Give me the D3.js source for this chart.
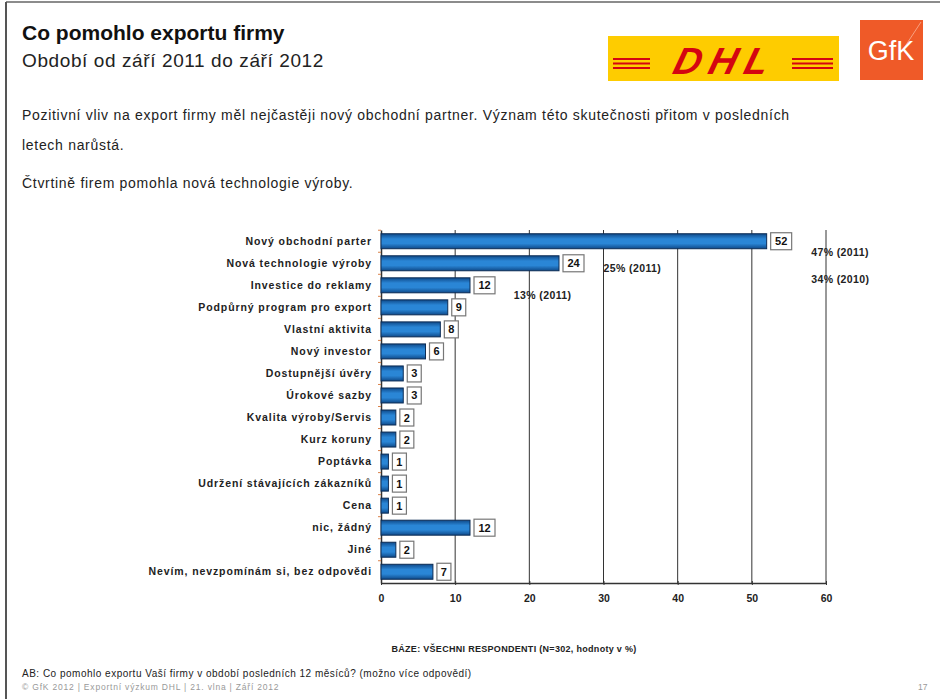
<!DOCTYPE html>
<html>
<head>
<meta charset="utf-8">
<script src="https://cdn.jsdelivr.net/npm/d3@7"></script>
<style>
  body { margin: 0; background: #fff; }
  svg text { font-family: "Liberation Sans", Arial, sans-serif; }
</style>
</head>
<body>
<svg id="chart" width="940" height="699"></svg>
<script>
// answers, top to bottom
const categories = [
    "Nový obchodní parter",
    "Nová technologie výroby",
    "Investice do reklamy",
    "Podpůrný program pro export",
    "Vlastní aktivita",
    "Nový investor",
    "Dostupnější úvěry",
    "Úrokové sazby",
    "Kvalita výroby/Servis",
    "Kurz koruny",
    "Poptávka",
    "Udržení stávajících zákazníků",
    "Cena",
    "nic, žádný",
    "Jiné",
    "Nevím, nevzpomínám si, bez odpovědi"
];
const values = [52, 24, 12, 9, 8, 6, 3, 3, 2, 2, 1, 1, 1, 12, 2, 7];
const xTicks = [0, 10, 20, 30, 40, 50, 60];

// earlier-year notes written next to the top bars
const notes = [
    {text: "47% (2011)", value: 58.0, row: 0, dy: 16},
    {text: "34% (2010)", value: 58.0, row: 0, dy: 43},
    {text: "25% (2011)", value: 30.0, row: 1, dy: 10},
    {text: "13% (2011)", value: 17.9, row: 2, dy: 15}
];

const svg = d3.select("#chart");
const margin = {top: 230, left: 381, right: 114, bottom: 116};
const width = 940, height = 699;

// slide frame
svg.append("line").attr("x1", 6).attr("y1", 2).attr("x2", 940).attr("y2", 2)
    .attr("stroke", "#666").attr("stroke-width", 1.5);
svg.append("line").attr("x1", 6).attr("y1", 2).attr("x2", 6).attr("y2", 699)
    .attr("stroke", "#555").attr("stroke-width", 2);

// header
svg.append("text").attr("x", 22).attr("y", 40).text("Co pomohlo exportu firmy")
    .attr("font-size", "21px").attr("font-weight", "bold").attr("fill", "#111");
svg.append("text").attr("x", 22).attr("y", 67).text("Období od září 2011 do září 2012")
    .attr("font-size", "19px").attr("fill", "#222").style("letter-spacing", "0.6px");

// logos
svg.append("rect").attr("x", 608).attr("y", 36).attr("width", 231).attr("height", 45).attr("fill", "#fecc00");
[59, 63.5, 68].forEach(y => {
    svg.append("line").attr("x1", 613).attr("x2", 833).attr("y1", y).attr("y2", y)
        .attr("stroke", "#d40511").attr("stroke-width", 1.8);
});
svg.append("rect").attr("x", 650).attr("y", 46).attr("width", 142).attr("height", 28).attr("fill", "#fecc00");
svg.append("text").attr("x", 722).attr("y", 74).text("DHL")
    .attr("font-size", "38px").attr("font-weight", "bold").attr("font-style", "italic")
    .attr("text-anchor", "middle").attr("fill", "#d40511")
    .attr("transform", "skewX(-15) translate(20,0)")
    .style("letter-spacing", "8px");
svg.append("rect").attr("x", 860).attr("y", 20).attr("width", 63).attr("height", 60).attr("fill", "#ef5a28");
svg.append("line").attr("x1", 904).attr("y1", 48).attr("x2", 921).attr("y2", 22)
    .attr("stroke", "#f8a080").attr("stroke-width", 1);
svg.append("text").attr("x", 891).attr("y", 60).text("GfK")
    .attr("font-size", "27px").attr("text-anchor", "middle").attr("fill", "#fff");

// intro text
const intro = [
    {t: "Pozitivní vliv na export firmy měl nejčastěji nový obchodní partner. Význam této skutečnosti přitom v posledních", y: 120},
    {t: "letech narůstá.", y: 150},
    {t: "Čtvrtině firem pomohla nová technologie výroby.", y: 188}
];
intro.forEach(d => {
    svg.append("text").attr("x", 22).attr("y", d.y).text(d.t)
        .attr("font-size", "14px").attr("fill", "#222").style("letter-spacing", "0.7px");
});

// scales
const xScale = d3.scaleLinear().domain([0, 60]).range([margin.left, width - margin.right]);
const yScale = d3.scaleBand().domain(categories).range([margin.top, height - margin.bottom]).paddingInner(0.32).paddingOuter(0.17);
const plotBottom = height - margin.bottom;

// gradient for the bars
const grad = svg.append("defs").append("linearGradient").attr("id", "barGrad")
    .attr("x1", 0).attr("y1", 0).attr("x2", 0).attr("y2", 1);
grad.append("stop").attr("offset", "0%").attr("stop-color", "#0f4a8a");
grad.append("stop").attr("offset", "35%").attr("stop-color", "#2a86d6");
grad.append("stop").attr("offset", "65%").attr("stop-color", "#2a86d6");
grad.append("stop").attr("offset", "100%").attr("stop-color", "#0f4a8a");

// grid lines
svg.append("g").selectAll("line")
    .data(xTicks.slice(1))
    .enter().append("line")
    .attr("x1", d => xScale(d)).attr("x2", d => xScale(d))
    .attr("y1", margin.top).attr("y2", plotBottom)
    .attr("stroke", "#333").attr("stroke-width", 1);

// x axis
const xAxis = d3.axisBottom(xScale).tickValues(xTicks).tickSize(4).tickSizeOuter(0);
const gx = svg.append("g")
    .attr("transform", `translate(0,${plotBottom})`)
    .call(xAxis);
gx.select(".domain").attr("stroke", "#333").attr("stroke-width", 1.5);
gx.selectAll(".tick line").attr("stroke", "#333").attr("transform", "translate(0,-2)");
gx.selectAll("text")
    .attr("font-size", "10.5px").attr("font-weight", "bold").attr("fill", "#222")
    .attr("dy", "1.1em");

// y axis with small orange tick marks between rows
const gy = svg.append("g").attr("transform", `translate(${margin.left},0)`)
    .call(d3.axisLeft(yScale).tickSize(0).tickPadding(9));
gy.select(".domain").attr("stroke", "#333").attr("stroke-width", 1.5);
gy.selectAll("text")
    .attr("font-size", "10.5px").attr("font-weight", "bold").attr("fill", "#222")
    .style("letter-spacing", "0.9px");
svg.append("g").selectAll("line")
    .data(categories)
    .enter().append("line")
    .attr("x1", margin.left - 3).attr("x2", margin.left)
    .attr("y1", d => yScale(d) - yScale.step() * yScale.paddingInner() / 2)
    .attr("y2", d => yScale(d) - yScale.step() * yScale.paddingInner() / 2)
    .attr("stroke", "#d9824a").attr("stroke-width", 1);

// bars
svg.append("g").selectAll("rect")
    .data(categories)
    .enter().append("rect")
    .attr("x", xScale(0))
    .attr("y", d => yScale(d))
    .attr("width", (d, i) => xScale(values[i]) - xScale(0))
    .attr("height", yScale.bandwidth())
    .attr("fill", "url(#barGrad)")
    .attr("stroke", "#0c2c55").attr("stroke-width", 1);

// value boxes
const labels = svg.append("g").selectAll("g")
    .data(categories)
    .enter().append("g")
    .attr("transform", (d, i) => `translate(${xScale(values[i]) + 4},${yScale(d) + yScale.bandwidth() / 2})`);
labels.append("rect")
    .attr("x", 0).attr("y", -8.5)
    .attr("width", (d, i) => String(values[i]).length > 1 ? 21 : 14)
    .attr("height", 17)
    .attr("fill", "#fff").attr("stroke", "#777").attr("stroke-width", 1.2);
labels.append("text")
    .attr("x", (d, i) => String(values[i]).length > 1 ? 10.5 : 7)
    .attr("y", 4)
    .attr("text-anchor", "middle")
    .attr("font-size", "11px").attr("font-weight", "bold").attr("fill", "#111")
    .text((d, i) => values[i]);

// previous years
svg.append("g").selectAll("text")
    .data(notes)
    .enter().append("text")
    .attr("x", d => xScale(d.value))
    .attr("y", d => yScale(categories[d.row]) + d.dy + 6)
    .attr("font-size", "10.5px").attr("font-weight", "bold").attr("fill", "#222")
    .style("letter-spacing", "0.4px")
    .text(d => d.text);

// base note
svg.append("text").attr("x", 514).attr("y", 652)
    .text("BÁZE: VŠECHNI RESPONDENTI (N=302, hodnoty v %)")
    .attr("font-size", "9px").attr("font-weight", "bold").attr("fill", "#222")
    .attr("text-anchor", "middle").style("letter-spacing", "0.3px");

// footer
svg.append("text").attr("x", 22).attr("y", 677)
    .text("AB: Co pomohlo exportu Vaší firmy v období posledních 12 měsíců? (možno více odpovědí)")
    .attr("font-size", "10px").attr("fill", "#222").style("letter-spacing", "0.5px");
svg.append("text").attr("x", 22).attr("y", 690)
    .text("© GfK 2012 | Exportní výzkum DHL | 21. vlna | Září 2012")
    .attr("font-size", "8.5px").attr("fill", "#999").style("letter-spacing", "0.8px");
svg.append("text").attr("x", 918).attr("y", 690)
    .text("17")
    .attr("font-size", "8.5px").attr("fill", "#999");
</script>
</body>
</html>
